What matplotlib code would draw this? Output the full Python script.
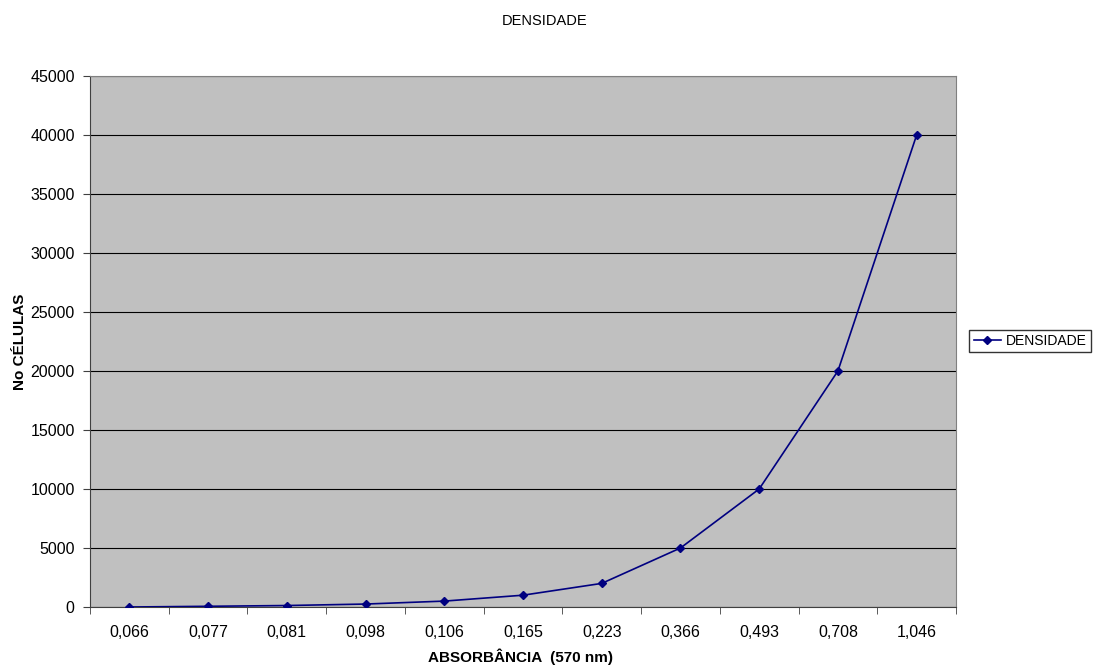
import numpy as np
import matplotlib.pyplot as plt
from matplotlib.ticker import FixedLocator, NullFormatter

plt.rcParams['font.family'] = ['Liberation Sans', 'DejaVu Sans']

absorbancia = ["0,066", "0,077", "0,081", "0,098", "0,106", "0,165",
               "0,223", "0,366", "0,493", "0,708", "1,046"]
celulas = [0, 60, 125, 250, 500, 1000, 2000, 5000, 10000, 20000, 40000]

fig = plt.figure(figsize=(10.99, 6.66), dpi=100)
ax = fig.add_axes([90 / 1099, 1 - 607 / 666, 866 / 1099, 531 / 666])
ax.set_facecolor("#c0c0c0")

x = np.arange(len(absorbancia))
ax.plot(x, celulas, color="#000080", lw=1.2, marker="D", ms=4.5,
        label="DENSIDADE", zorder=3)

ax.set_xlim(-0.5, len(absorbancia) - 0.5)
ax.set_ylim(0, 45000)
ax.set_yticks(np.arange(0, 45001, 5000))
ax.yaxis.grid(True, color="black", lw=0.8)
ax.set_axisbelow(True)

# categorias com marcas entre elas
ax.set_xticks(x)
ax.set_xticklabels(absorbancia)
ax.tick_params(axis="x", which="major", length=0, pad=13)
ax.xaxis.set_minor_locator(FixedLocator(np.arange(-0.5, len(absorbancia), 1)))
ax.xaxis.set_minor_formatter(NullFormatter())
ax.tick_params(axis="x", which="minor", length=5, color="#404040")
ax.tick_params(axis="y", length=5, color="#404040", pad=6)
ax.tick_params(labelsize=11.5)

for side in ["top", "right"]:
    ax.spines[side].set_color("#808080")
for side in ["left", "bottom"]:
    ax.spines[side].set_color("#404040")

ax.set_xlabel("ABSORBÂNCIA  (570 nm)", fontsize=11, fontweight="bold")
ax.xaxis.label.set_verticalalignment("center")
ax.xaxis.set_label_coords(0.5 + (520 - 523) / 866, -(657 - 607) / 531)
ax.set_ylabel("No CÉLULAS", fontsize=11, fontweight="bold")
ax.yaxis.set_label_coords(-(90 - 20) / 866, 0.5)
ax.yaxis.label.set_verticalalignment("center")
fig.text(545 / 1099, 1 - 21 / 666, "DENSIDADE", fontsize=10.5, ha="center", va="center")

fig.legend(loc="center left", bbox_to_anchor=(968 / 1099, 1 - 341 / 666),
           frameon=True, fancybox=False, edgecolor="black", fontsize=10,
           handlelength=2.0, borderpad=0.3, handletextpad=0.3, borderaxespad=0.1)

fig.savefig("out.png", dpi=100)
